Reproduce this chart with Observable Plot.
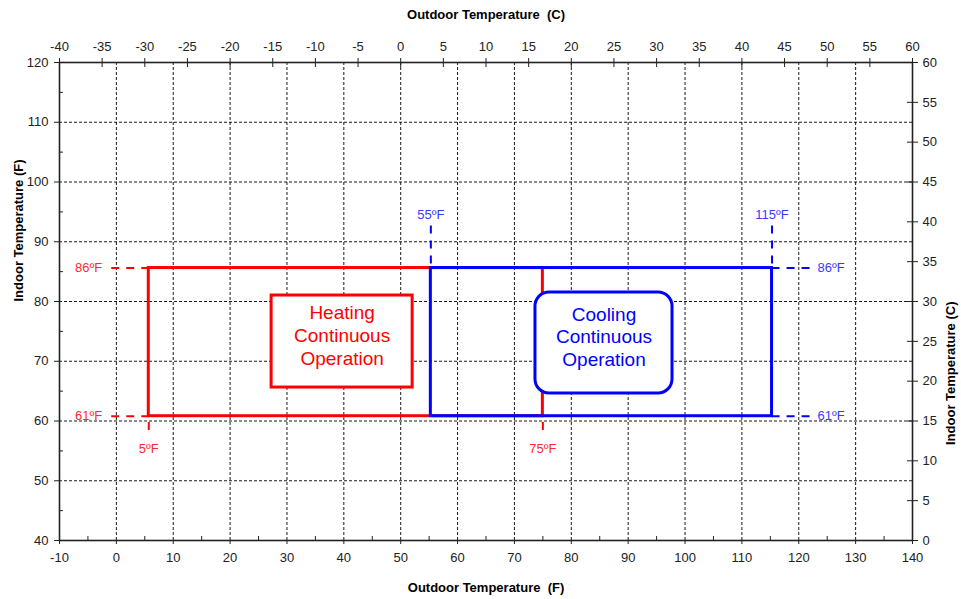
<!DOCTYPE html>
<html><head><meta charset="utf-8">
<script src="https://cdn.jsdelivr.net/npm/d3@7"></script>
<script src="https://cdn.jsdelivr.net/npm/@observablehq/plot@0.6"></script>
<style>body{margin:0;background:#fff}</style>
</head><body><div id="chart"></div>
<script>
// ---- axis ticks ----
const bottomTicksF = [-10, 0, 10, 20, 30, 40, 50, 60, 70, 80, 90, 100, 110, 120, 130, 140];
const bottomMinorF = [-5, 5, 15, 25, 35, 45, 55, 65, 75, 85, 95, 105, 115, 125, 135];
const leftTicksF = [40, 50, 60, 70, 80, 90, 100, 110, 120];
const leftMinorF = [45, 55, 65, 75, 85, 95, 105, 115];
const gridXF = [0, 10, 20, 30, 40, 50, 60, 70, 80, 90, 100, 110, 120, 130];
const gridYF = [50, 60, 70, 80, 90, 100, 110];
const topTicksC = [-40, -35, -30, -25, -20, -15, -10, -5, 0, 5, 10, 15, 20, 25, 30, 35, 40, 45, 50, 55, 60];
const rightTicksC = [0, 5, 10, 15, 20, 25, 30, 35, 40, 45, 50, 55, 60];

// ---- operating ranges ----
const heatOutdoorF = [5.7, 75];      // labelled 5ºF .. 75ºF
const coolOutdoorF = [55.3, 115.3];  // labelled 55ºF .. 115ºF
const indoorF = [60.8, 85.6];        // labelled 61ºF .. 86ºF
const heatLabels = ["5ºF", "75ºF"];
const coolLabels = ["55ºF", "115ºF"];
const indoorLabels = ["61ºF", "86ºF"];
const dashLenF = 6.6;        // horizontal leader length (ºF outdoor)
const dashDownF = 2.3;       // leader below heating box (ºF indoor)
const dashUpF = 7.1;         // leader above cooling box (ºF indoor)

// ---- annotation boxes ----
const heatBox = [27.3, 52.1, 65.6, 81.0];
const coolBox = [73.7, 97.8, 64.6, 81.5];
const heatText = "Heating\nContinuous\nOperation";
const coolText = "Cooling\nContinuous\nOperation";

// axis mappings (secondary axes are linear over the same frame)
const xDom = [-10, 140], yDom = [40, 120];
const cTop = d3.scaleLinear().domain([-40, 60]).range(xDom);
const cRight = d3.scaleLinear().domain([0, 60]).range(yDom);
const topPos = topTicksC.map(c => cTop(c));
const rightPos = rightTicksC.map(c => cRight(c));
const topLab = new Map(topPos.map((p, i) => [p, String(topTicksC[i])]));
const rightLab = new Map(rightPos.map((p, i) => [p, String(rightTicksC[i])]));

const W = 961, H = 599, mL = 59, mR = 49, mT = 62, mB = 59;
const fw = W - mL - mR, fh = H - mT - mB;
const RED = "#ff0000", BLUE = "#0000ff", RED_T = "#ff2a2a", BLUE_T = "#3a3aff", AX = "#222";

const redLeaders = [
  {x1: heatOutdoorF[0] - dashLenF, x2: heatOutdoorF[0], y1: indoorF[1], y2: indoorF[1]},
  {x1: heatOutdoorF[0] - dashLenF, x2: heatOutdoorF[0], y1: indoorF[0], y2: indoorF[0]},
  {x1: heatOutdoorF[0], x2: heatOutdoorF[0], y1: indoorF[0] - dashDownF, y2: indoorF[0]},
  {x1: heatOutdoorF[1], x2: heatOutdoorF[1], y1: indoorF[0] - dashDownF, y2: indoorF[0]}
];
const blueLeaders = [
  {x1: coolOutdoorF[0], x2: coolOutdoorF[0], y1: indoorF[1] + dashUpF, y2: indoorF[1]},
  {x1: coolOutdoorF[1], x2: coolOutdoorF[1], y1: indoorF[1] + dashUpF, y2: indoorF[1]},
  {x1: coolOutdoorF[1] + dashLenF, x2: coolOutdoorF[1], y1: indoorF[1], y2: indoorF[1]},
  {x1: coolOutdoorF[1] + dashLenF, x2: coolOutdoorF[1], y1: indoorF[0], y2: indoorF[0]}
];
const redSideLabels = [
  {x: heatOutdoorF[0] - dashLenF, y: indoorF[1], t: indoorLabels[1]},
  {x: heatOutdoorF[0] - dashLenF, y: indoorF[0], t: indoorLabels[0]}
];
const redBottomLabels = heatOutdoorF.map((x, i) => ({x, y: indoorF[0] - dashDownF, t: heatLabels[i]}));
const blueTopLabels = coolOutdoorF.map((x, i) => ({x, y: indoorF[1] + dashUpF, t: coolLabels[i]}));
const blueSideLabels = [
  {x: coolOutdoorF[1] + dashLenF, y: indoorF[1], t: indoorLabels[1]},
  {x: coolOutdoorF[1] + dashLenF, y: indoorF[0], t: indoorLabels[0]}
];

const chart = Plot.plot({
  width: W, height: H,
  marginLeft: mL, marginRight: mR, marginTop: mT, marginBottom: mB,
  style: {fontFamily: "'Liberation Sans', Arial, sans-serif", fontSize: "13px", background: "#fff"},
  x: {domain: xDom},
  y: {domain: yDom},
  marks: [
    Plot.gridX(gridXF, {stroke: "#000", strokeOpacity: 0.9, strokeDasharray: "3,2", strokeWidth: 1}),
    Plot.gridY(gridYF, {stroke: "#000", strokeOpacity: 0.9, strokeDasharray: "3,2", strokeWidth: 1}),
    // axes
    Plot.axisX(bottomTicksF, {anchor: "bottom", tickSize: 4, tickPadding: 8, label: null, color: AX, tickFormat: d => String(d)}),
    Plot.tickX(bottomMinorF, {x: d => d, insetTop: fh - 4, stroke: AX}),
    Plot.axisX(topPos, {anchor: "top", tickSize: 5, tickPadding: 7, label: null, color: AX, tickFormat: d => topLab.get(d)}),
    Plot.tickX(topPos, {x: d => d, insetBottom: fh - 5, stroke: AX}),
    Plot.axisY(leftTicksF, {anchor: "left", tickSize: 5, tickPadding: 6, label: null, color: AX, tickFormat: d => String(d)}),
    Plot.tickY(leftMinorF, {y: d => d, insetRight: fw - 4, stroke: AX}),
    Plot.axisY(rightPos, {anchor: "right", tickSize: 5, tickPadding: 5, label: null, color: AX, tickFormat: d => rightLab.get(d)}),
    Plot.tickY(rightPos, {y: d => d, insetLeft: fw - 5, stroke: AX}),
    Plot.frame({stroke: AX, strokeWidth: 1.6}),
    // axis titles
    Plot.text(["Outdoor Temperature\u00a0 (C)"], {frameAnchor: "top", lineAnchor: "middle", dy: -48, fontWeight: "bold", fontSize: 13, fill: "#000"}),
    Plot.text(["Outdoor Temperature\u00a0 (F)"], {frameAnchor: "bottom", lineAnchor: "middle", dy: 47, fontWeight: "bold", fontSize: 13, fill: "#000"}),
    Plot.text(["Indoor Temperature (F)"], {frameAnchor: "left", dx: -41, rotate: -90, fontWeight: "bold", fontSize: 13, fill: "#000"}),
    Plot.text(["Indoor Temperature (C)"], {frameAnchor: "right", dx: 38, rotate: -90, fontWeight: "bold", fontSize: 13, fill: "#000"}),
    // operating envelopes
    Plot.rect([{x1: heatOutdoorF[0], x2: heatOutdoorF[1], y1: indoorF[0], y2: indoorF[1]}],
      {x1: "x1", x2: "x2", y1: "y1", y2: "y2", fill: "none", stroke: RED, strokeWidth: 3}),
    Plot.rect([{x1: coolOutdoorF[0], x2: coolOutdoorF[1], y1: indoorF[0], y2: indoorF[1]}],
      {x1: "x1", x2: "x2", y1: "y1", y2: "y2", fill: "none", stroke: BLUE, strokeWidth: 3}),
    // leaders
    Plot.link(redLeaders, {x1: "x1", y1: "y1", x2: "x2", y2: "y2", stroke: RED, strokeWidth: 2, strokeDasharray: "8,7"}),
    Plot.link(blueLeaders, {x1: "x1", y1: "y1", x2: "x2", y2: "y2", stroke: BLUE, strokeWidth: 2, strokeDasharray: "8,7"}),
    Plot.text(redSideLabels, {x: "x", y: "y", text: "t", textAnchor: "end", dx: -9, fill: RED_T, fontSize: 13}),
    Plot.text(redBottomLabels, {x: "x", y: "y", text: "t", dy: 19, fill: RED_T, fontSize: 13}),
    Plot.text(blueTopLabels, {x: "x", y: "y", text: "t", dy: -11, fill: BLUE_T, fontSize: 13}),
    Plot.text(blueSideLabels, {x: "x", y: "y", text: "t", textAnchor: "start", dx: 8, fill: BLUE_T, fontSize: 13}),
    // annotation boxes
    Plot.rect([heatBox], {x1: d => d[0], x2: d => d[1], y1: d => d[2], y2: d => d[3], fill: "#fff", stroke: RED, strokeWidth: 3}),
    Plot.rect([coolBox], {x1: d => d[0], x2: d => d[1], y1: d => d[2], y2: d => d[3], fill: "#fff", stroke: BLUE, strokeWidth: 3, rx: 14}),
    Plot.text([heatBox], {x: d => (d[0] + d[1]) / 2, y: d => (d[2] + d[3]) / 2, text: () => heatText, dy: -7, lineHeight: 1.2, fontSize: 19, fill: RED}),
    Plot.text([coolBox], {x: d => (d[0] + d[1]) / 2, y: d => (d[2] + d[3]) / 2, text: () => coolText, dy: -7, lineHeight: 1.18, fontSize: 19, fill: BLUE})
  ]
});
document.getElementById("chart").appendChild(chart);
</script></body></html>
